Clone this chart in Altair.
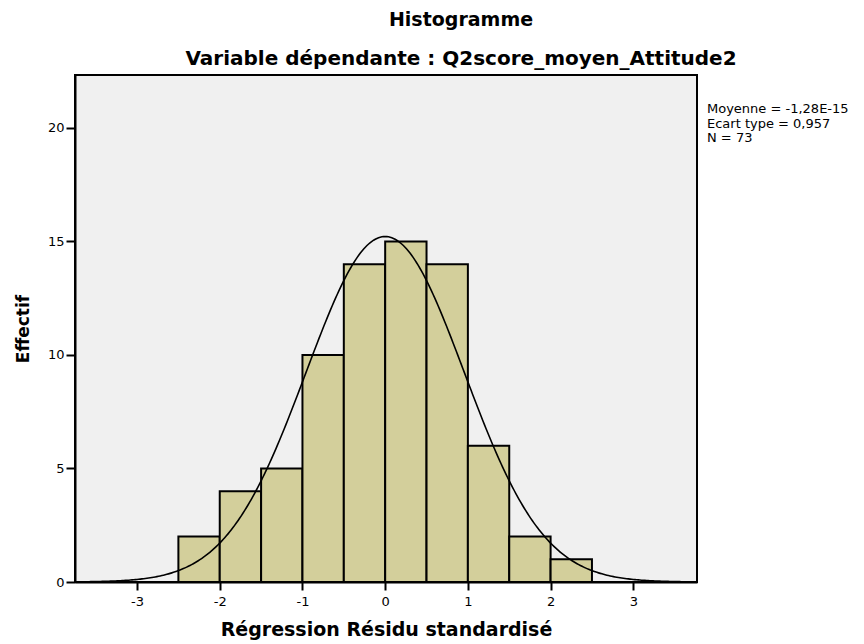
import altair as alt
import pandas as pd

# Data
bin_start = [-2.5, -2.0, -1.5, -1.0, -0.5, 0.0, 0.5, 1.0, 1.5, 2.0]
counts = [2, 4, 5, 10, 14, 15, 14, 6, 2, 1]
bin_width = 0.5
mean_val = -1.28e-15
sd_val = 0.957
n_val = 73
x_ticks = [-3, -2, -1, 0, 1, 2, 3]
y_ticks = [0, 5, 10, 15, 20]
stats_lines = ["Moyenne = -1,28E-15", "Ecart type = 0,957", "N = 73"]
title_main = "Histogramme"
title_sub = "Variable dépendante : Q2score_moyen_Attitude2"
x_title = "Régression Résidu standardisé"
y_title = "Effectif"

bars_df = pd.DataFrame({
    "start": bin_start,
    "end": [b + bin_width for b in bin_start],
    "count": counts,
})

FONT = "DejaVu Sans"
FILL = "#D3CF9B"

x_scale = alt.Scale(domain=[-3.75, 3.77], nice=False, zero=False)
y_scale = alt.Scale(domain=[0, 22.33], nice=False, zero=False)

x_axis = alt.Axis(values=x_ticks, title=x_title, grid=False, labelExpr="'' + datum.value",
                  domainColor="black", domainWidth=2, tickColor="black", tickWidth=2, tickSize=8,
                  labelFont=FONT, labelFontSize=13, labelColor="black", labelPadding=5,
                  titleFont=FONT, titleFontSize=19, titleFontWeight="bold", titleColor="black",
                  titlePadding=12)
y_axis = alt.Axis(values=y_ticks, title=y_title, grid=False,
                  domainColor="black", domainWidth=2, tickColor="black", tickWidth=2, tickSize=9,
                  labelFont=FONT, labelFontSize=13, labelColor="black", labelPadding=2,
                  titleFont=FONT, titleFontSize=17, titleFontWeight="bold", titleColor="black",
                  titlePadding=15)

bars = alt.Chart(bars_df).mark_rect(fill=FILL, stroke="black", strokeWidth=2).encode(
    x=alt.X("start:Q", scale=x_scale, axis=x_axis),
    x2="end:Q",
    y=alt.Y("count:Q", scale=y_scale, axis=y_axis),
    y2=alt.datum(0),
)

curve = alt.Chart(alt.sequence(-3.6, 3.601, 0.02, as_="x")).transform_calculate(
    density=f"{n_val} * {bin_width} / ({sd_val} * sqrt(2 * PI)) * exp(-0.5 * pow((datum.x - ({mean_val})) / {sd_val}, 2))"
).mark_line(color="black", strokeWidth=1.6, clip=True).encode(
    x=alt.X("x:Q", scale=x_scale),
    y=alt.Y("density:Q", scale=y_scale),
)

stats = alt.Chart(pd.DataFrame({"k": [0]})).mark_text(
    align="left", baseline="top", font=FONT, fontSize=13, color="black", lineHeight=14.5
).encode(
    x=alt.value(632),
    y=alt.value(28),
    text=alt.value(stats_lines),
)

chart = alt.layer(bars, curve, stats).properties(
    width=622,
    height=507,
    background="white",
    autosize=alt.AutoSizeParams(type="none"),
    padding={"left": 67, "top": 67, "right": 158, "bottom": 62},
    title=alt.TitleParams(
        text=title_main, subtitle=title_sub,
        font=FONT, fontSize=19, fontWeight="bold", color="black",
        subtitleFont=FONT, subtitleFontSize=20, subtitleFontWeight="bold", subtitleColor="black",
        subtitlePadding=19, anchor="middle", frame="group", dx=75, offset=6,
    ),
).configure_view(
    fill="#F0F0F0", stroke="black", strokeWidth=2
)

chart.save("out.html", embed_options={"renderer": "svg", "actions": False})
